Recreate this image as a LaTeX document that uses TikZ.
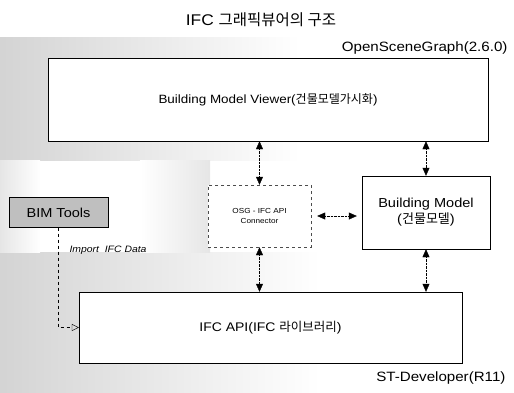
\documentclass[tikz,border=0pt]{standalone}
\usepackage{fontspec}
\setmainfont{Liberation Sans}[FakeStretch=1.12]
\newfontfamily\kr{Noto Sans CJK KR}
\usetikzlibrary{arrows.meta}

\tikzset{
  box/.style={draw, fill=white, inner sep=0pt},
  link/.style={densely dotted, {Triangle[width=7pt,length=8pt]}-{Triangle[width=7pt,length=8pt]}},
  side/.style={anchor=east, font=\fontsize{13.5}{15}\selectfont}
}

\begin{document}
\begin{tikzpicture}[x=1pt, y=-1pt]
	\useasboundingbox (0,0) rectangle (514,392);
	% halftone background
	\shade[left color=black!17, right color=white] (0,37) rectangle (300,160);
	\shade[left color=black!17, right color=white] (0,252) rectangle (320,392);
	\shade[left color=black!10, right color=white] (0,160) rectangle (40,252);
	\shade[left color=white, right color=black!10] (140,160) rectangle (210,252);
	% title
	\node[font=\fontsize{15.5}{18}\selectfont] (title) at (261,20) {IFC {\kr 그래픽뷰어의 구조}};
	\node[side] (osg) at (511,48) {OpenSceneGraph(2.6.0)};
	\node[side] (st) at (509,378) {ST-Developer(R11)};
	% boxes
	\node[box, minimum width=440pt, minimum height=83pt, font=\fontsize{12}{14}\selectfont] (viewer) at (268,99.5) {Building Model Viewer({\kr 건물모델가시화})};
	\node[box, dashed, draw=black!70, minimum width=103pt, minimum height=62pt, align=center, font=\fontsize{7.3}{10}\selectfont] (connector) at (259.5,216) {OSG - IFC API\\Connector};
	\node[box, minimum width=128pt, minimum height=73pt, align=center, font=\fontsize{13}{16}\selectfont] (model) at (426,212.5) {Building Model\\({\kr 건물모델})};
	\node[box, fill=black!25, minimum width=99pt, minimum height=30pt, font=\fontsize{13}{15}\selectfont] (bim) at (58.5,212.5) {BIM Tools};
	\node[box, minimum width=383pt, minimum height=71pt, font=\fontsize{12.5}{14}\selectfont] (ifcapi) at (270.5,327.5) {IFC API(IFC {\kr 라이브러리})};
	% links
	\draw[link] (viewer.south -| connector.north) -- (connector.north);
	\draw[link] (viewer.south -| model.north) -- (model.north);
	\draw[link] ([xshift=6pt]connector.east) -- ([xshift=-5pt]model.west |- connector.east);
	\draw[link] (connector.south) -- (connector.south |- ifcapi.north);
	\draw[link] (model.south) -- (model.south |- ifcapi.north);
	% import
	\coordinate (bend) at (bim.south |- ifcapi.west);
	\draw[dashed, -{Triangle[open,width=7pt,length=7pt]}] (bim.south) -- (bend) -- (ifcapi.west);
	\node[anchor=west, font=\itshape\fontsize{9.3}{11}\selectfont] (import) at (66,250) {Import~ IFC Data};
\end{tikzpicture}
\end{document}
